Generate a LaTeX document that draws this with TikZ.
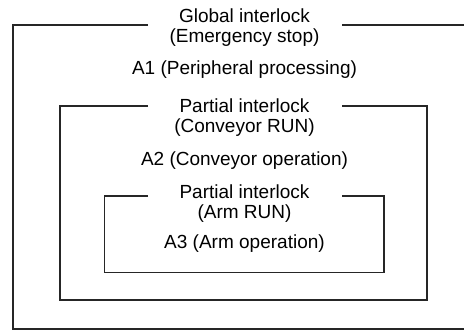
\documentclass[tikz,border=0pt]{standalone}
\usepackage{fontspec}
\setmainfont{Liberation Sans}
\begin{document}
\begin{tikzpicture}[x=1pt,y=-1pt,
  lbl/.style={align=center,inner sep=0pt,font=\fontsize{19pt}{20pt}\selectfont},
  frame/.style={line width=1.1pt,black!85}]
\useasboundingbox (0,0) rectangle (464,330);
% outer frame
\coordinate (o1) at (148,25); \coordinate (o2) at (13,25);
\coordinate (o3) at (13,329); \coordinate (o4) at (464,329);
\coordinate (o5) at (342,25); \coordinate (o6) at (464,25);
\draw[frame] (o1) -- (o2) -- (o3) -- (o4);
\draw[frame] (o5) -- (o6);
% middle frame
\coordinate (m1) at (148,106); \coordinate (m2) at (60,106);
\coordinate (m3) at (60,300); \coordinate (m4) at (427,300);
\coordinate (m5) at (427,106); \coordinate (m6) at (342,106);
\draw[frame] (m1) -- (m2) -- (m3) -- (m4) -- (m5) -- (m6);
% inner frame
\coordinate (i1) at (148,196); \coordinate (i2) at (104.5,196);
\coordinate (i3) at (104.5,272.5); \coordinate (i4) at (384,272.5);
\coordinate (i5) at (384,196); \coordinate (i6) at (342,196);
\draw[frame] (i1) -- (i2) -- (i3) -- (i4) -- (i5) -- (i6);
% labels
\node[lbl] (g) at (244.5,28) {Global interlock\\(Emergency stop)};
\node[lbl] (a1) at (244.5,70) {A1 (Peripheral processing)};
\node[lbl] (p1) at (244.5,118) {Partial interlock\\(Conveyor RUN)};
\node[lbl] (a2) at (244.5,161) {A2 (Conveyor operation)};
\node[lbl] (p2) at (244.5,203.5) {Partial interlock\\(Arm RUN)};
\node[lbl] (a3) at (244.5,244) {A3 (Arm operation)};
\end{tikzpicture}
\end{document}
